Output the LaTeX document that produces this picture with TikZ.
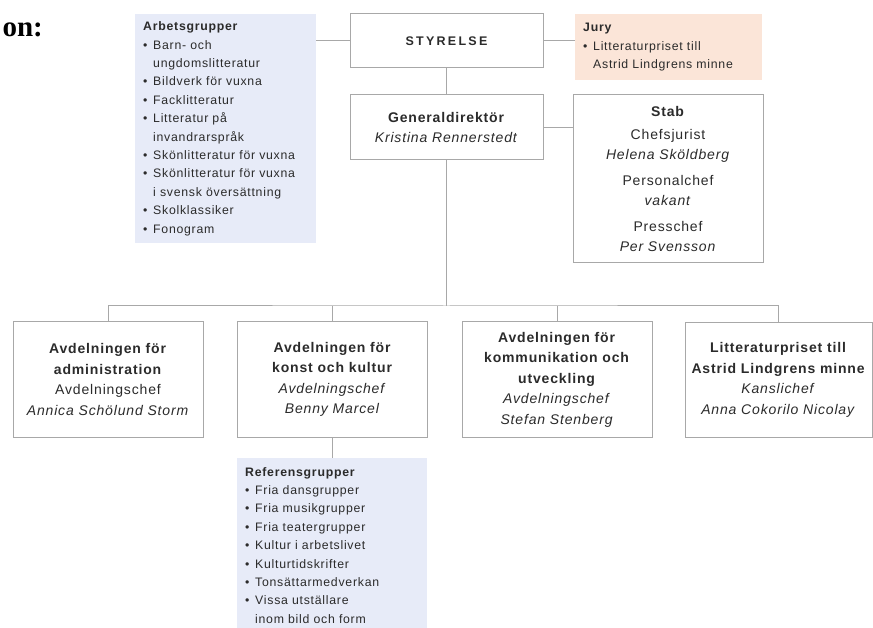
\documentclass[tikz,border=0pt]{standalone}
\usepackage{fontspec}
\setmainfont{Liberation Sans}
\newfontfamily\orgfont[LetterSpace=6]{Liberation Sans}
\newfontfamily\boardfont[LetterSpace=18]{Liberation Sans}
\newfontfamily\headfont{Liberation Serif}
\definecolor{rule}{HTML}{A8A8A8}
\definecolor{ink}{HTML}{2B2B2B}
\definecolor{groupblue}{HTML}{E7EBF8}
\definecolor{jurypeach}{HTML}{FBE5D8}
\tikzstyle{orgbox} = [draw=rule, line width=1pt, fill=white, text=ink, align=center, minimum width=190pt, inner sep=2pt, font=\orgfont\fontsize{14}{20.5}\selectfont]
\tikzstyle{listbox} = [text=ink, align=left, anchor=north west, inner xsep=8pt, inner ysep=6pt, font=\orgfont\fontsize{12.3}{18.4}\selectfont]
\tikzstyle{line} = [draw=rule, line width=1pt]
\newcommand{\blt}{\makebox[10pt][l]{\textbullet}}
\newcommand{\ind}{\hspace*{10pt}}

\begin{document}
\begin{tikzpicture}[x=1pt, y=-1pt]
	\useasboundingbox (0,0) rectangle (873,628);
	\node[anchor=base east, text=black, font=\headfont\bfseries\fontsize{29}{32}\selectfont, inner sep=0pt] (ttl) at (43,37) {on:};
	\node[listbox, fill=groupblue, text width=165pt, minimum height=229pt] (arb) at (135,14) {\textbf{Arbetsgrupper}\\
		\blt Barn- och\\ \ind ungdomslitteratur\\
		\blt Bildverk för vuxna\\
		\blt Facklitteratur\\
		\blt Litteratur på\\ \ind invandrarspråk\\
		\blt Skönlitteratur för vuxna\\
		\blt Skönlitteratur för vuxna\\ \ind i svensk översättning\\
		\blt Skolklassiker\\
		\blt Fonogram};
	\node[orgbox, minimum width=193pt, minimum height=54pt, font=\boardfont\bfseries\fontsize{12.5}{15}\selectfont] (sty) at (446.5,41) {STYRELSE};
	\node[listbox, fill=jurypeach, text width=171pt, minimum height=66pt] (jury) at (575,14) {\textbf{Jury}\\
		\blt Litteraturpriset till\\ \ind Astrid Lindgrens minne};
	\node[orgbox, minimum width=193pt, minimum height=65pt] (gd) at (446.5,127.5) {\textbf{Generaldirektör}\\ \textit{Kristina Rennerstedt}};
	\node[orgbox, minimum height=168pt] (stab) at (668,179) {\textbf{Stab}\\[2pt]
		Chefsjurist\\ \textit{Helena Sköldberg}\\[5pt]
		Personalchef\\ \textit{vakant}\\[5pt]
		Presschef\\ \textit{Per Svensson}};
	\coordinate (bus) at (446.5,306);
	\node[orgbox, minimum height=115pt] (adm) at (108,379.5) {\textbf{Avdelningen för}\\ \textbf{administration}\\ Avdelningschef\\ \textit{Annica Schölund Storm}};
	\node[orgbox, minimum height=115pt] (konst) at (332.5,379.5) {\textbf{Avdelningen för}\\ \textbf{konst och kultur}\\ \textit{Avdelningschef}\\ \textit{Benny Marcel}};
	\node[orgbox, minimum height=115pt] (komm) at (557,379.5) {\textbf{Avdelningen för}\\ \textbf{kommunikation och}\\ \textbf{utveckling}\\ \textit{Avdelningschef}\\ \textit{Stefan Stenberg}};
	\node[orgbox, minimum width=187pt, minimum height=115pt] (lit) at (778.5,380) {\textbf{Litteraturpriset till}\\ \textbf{Astrid Lindgrens minne}\\ \textit{Kanslichef}\\ \textit{Anna Cokorilo Nicolay}};
	\node[listbox, fill=groupblue, text width=174pt, inner ysep=9pt] (ref) at (237,458) {\textbf{Referensgrupper}\\
		\blt Fria dansgrupper\\
		\blt Fria musikgrupper\\
		\blt Fria teatergrupper\\
		\blt Kultur i arbetslivet\\
		\blt Kulturtidskrifter\\
		\blt Tonsättarmedverkan\\
		\blt Vissa utställare\\ \ind inom bild och form\\ \mbox{}};
	\path [line] (sty.west -| arb.east) -- (sty.west);
	\path [line] (sty.east) -- (sty.east -| jury.west);
	\path [line] (sty.south) -- (gd.north);
	\path [line] (gd.east) -- (gd.east -| stab.west);
	\path [line] (gd.south) -- (bus);
	\path [line] (adm.north) |- (bus) -| (lit.north);
	\path [line] (konst.north) -- (konst.north |- bus);
	\path [line] (komm.north) -- (komm.north |- bus);
	\path [line] (konst.south) -- (ref.north -| konst.south);
\end{tikzpicture}
\end{document}
